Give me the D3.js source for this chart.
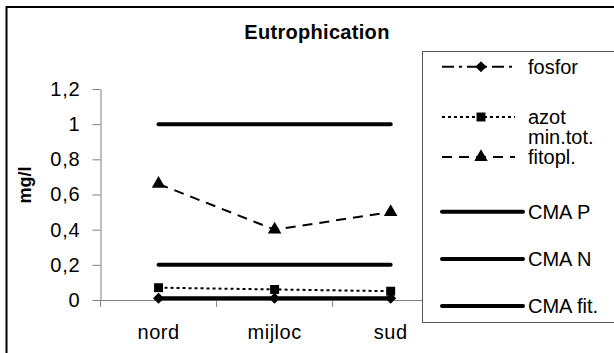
<!DOCTYPE html>
<html>
<head>
<meta charset="utf-8">
<script src="https://cdn.jsdelivr.net/npm/d3@7"></script>
<style>
  html, body { margin: 0; padding: 0; background: #fff; }
  svg { display: block; font-family: "Liberation Sans", Arial, sans-serif; }
</style>
</head>
<body>
<svg id="chart" width="614" height="353"></svg>
<script>
// ---- data ----
const categories = ["nord", "mijloc", "sud"];
const fosfor = [0.01, 0.01, 0.01];
const azot = [0.07, 0.06, 0.05];
const fitopl = [0.66, 0.40, 0.50];
const cmaP = [1, 1, 1];
const cmaN = [0.2, 0.2, 0.2];
const cmaFit = [0.01, 0.01, 0.01];
const yTicks = [0, 0.2, 0.4, 0.6, 0.8, 1, 1.2];
const seriesNames = ["fosfor", "azot", "min.tot.\nfitopl.", "CMA P", "CMA N", "CMA fit."];
const title = "Eutrophication";
const yTitle = "mg/l";

// ---- layout ----
const svg = d3.select("#chart");
const plot = { left: 100.5, right: 448.7, top: 89, bottom: 300 };

const x = d3.scaleBand().domain(categories).range([plot.left, plot.right]).paddingInner(0).paddingOuter(0);
const y = d3.scaleLinear().domain([0, 1.2]).range([plot.bottom, plot.top]);
const cx = c => x(c) + x.bandwidth() / 2;
const fmt = d => String(d).replace(".", ",");

// outer border
svg.append("rect").attr("x", 6.5).attr("y", 7).attr("width", 640).attr("height", 400)
  .attr("fill", "#fff").attr("stroke", "#000").attr("stroke-width", 2);

// title
svg.append("text").attr("x", 317).attr("y", 39).attr("text-anchor", "middle")
  .attr("font-size", 20).attr("font-weight", "bold").attr("letter-spacing", 0.3).text(title);

// y axis
const yAxis = d3.axisLeft(y).tickValues(yTicks).tickFormat(fmt).tickSizeInner(8).tickSizeOuter(0).tickPadding(12);
const gy = svg.append("g").attr("transform", `translate(${plot.left},0)`).call(yAxis);
gy.selectAll("path, line").attr("stroke", "#808080");
gy.selectAll("text").attr("font-size", 20).attr("letter-spacing", 0.8)
  .attr("font-family", "Liberation Sans, Arial, sans-serif").attr("fill", "#000");

// y title
svg.append("text").attr("transform", `translate(31,185) rotate(-90)`).attr("text-anchor", "middle")
  .attr("font-size", 18).attr("font-weight", "bold").text(yTitle);

// x axis line and boundary ticks
const bounds = categories.map(c => x(c)).concat([x.range()[1]]);
svg.append("line").attr("x1", plot.left).attr("x2", plot.right).attr("y1", y(0) + 0.5).attr("y2", y(0) + 0.5)
  .attr("stroke", "#808080");
svg.selectAll(".xt").data(bounds).enter().append("line")
  .attr("x1", d => d).attr("x2", d => d).attr("y1", y(0)).attr("y2", y(0) + 7).attr("stroke", "#808080");
const xAxis = d3.axisBottom(x).tickSize(0).tickPadding(25);
const gx = svg.append("g").attr("transform", `translate(0,${plot.bottom})`).call(xAxis);
gx.select(".domain").remove();
gx.selectAll("text").attr("font-size", 20).attr("letter-spacing", 0.5)
  .attr("font-family", "Liberation Sans, Arial, sans-serif").attr("fill", "#000");

// series
const styles = [
  { vals: fosfor, dash: "12,5,3,5", width: 2, marker: "diamond" },
  { vals: azot, dash: "3,3", width: 2, marker: "square" },
  { vals: fitopl, dash: "10,7", width: 2, marker: "triangle" },
  { vals: cmaP, dash: null, width: 4, marker: null },
  { vals: cmaN, dash: null, width: 4, marker: null },
  { vals: cmaFit, dash: null, width: 4, marker: null }
];
const line = d3.line().x((d, i) => cx(categories[i])).y(d => y(d));
const markerPath = {
  diamond: d3.symbol().type(d3.symbolSquare).size(62)(),
  square: d3.symbol().type(d3.symbolSquare).size(80)(),
  triangle: d3.symbol().type(d3.symbolTriangle).size(80)()
};
const markerRot = { diamond: 45, square: 0, triangle: 0 };

styles.forEach(s => {
  svg.append("path").attr("d", line(s.vals)).attr("fill", "none").attr("stroke", "#000")
    .attr("stroke-width", s.width).attr("stroke-dasharray", s.dash).attr("stroke-linecap", s.dash ? "butt" : "round");
  if (s.marker) {
    svg.selectAll(null).data(s.vals).enter().append("path")
      .attr("d", markerPath[s.marker])
      .attr("transform", (d, i) => `translate(${cx(categories[i])},${y(d)}) rotate(${markerRot[s.marker]})`)
      .attr("fill", "#000");
  }
});

// legend
const lg = svg.append("g");
lg.append("rect").attr("x", 422.5).attr("y", 51.5).attr("width", 300).attr("height", 271)
  .attr("fill", "#fff").attr("stroke", "#555").attr("stroke-width", 1);
const legendY = [66.7, 117, 157, 211.7, 259, 306];
styles.forEach((s, i) => {
  const yy = legendY[i];
  const x2 = s.marker ? 515 : 523;
  lg.append("line").attr("x1", 442).attr("x2", x2).attr("y1", yy).attr("y2", yy)
    .attr("stroke", "#000").attr("stroke-width", s.width).attr("stroke-dasharray", s.dash)
    .attr("stroke-linecap", s.dash ? "butt" : "round");
  if (s.marker) {
    lg.append("path").attr("d", markerPath[s.marker])
      .attr("transform", `translate(481,${yy}) rotate(${markerRot[s.marker]})`).attr("fill", "#000");
  }
  const lines = seriesNames[i].split("\n");
  const t = lg.append("text").attr("x", 528).attr("font-size", 20).attr("fill", "#000");
  lines.forEach((ln, j) => {
    t.append("tspan").attr("x", 528).attr("y", yy + 7 - (lines.length - 1 - j) * 20).text(ln);
  });
});
</script>
</body>
</html>
